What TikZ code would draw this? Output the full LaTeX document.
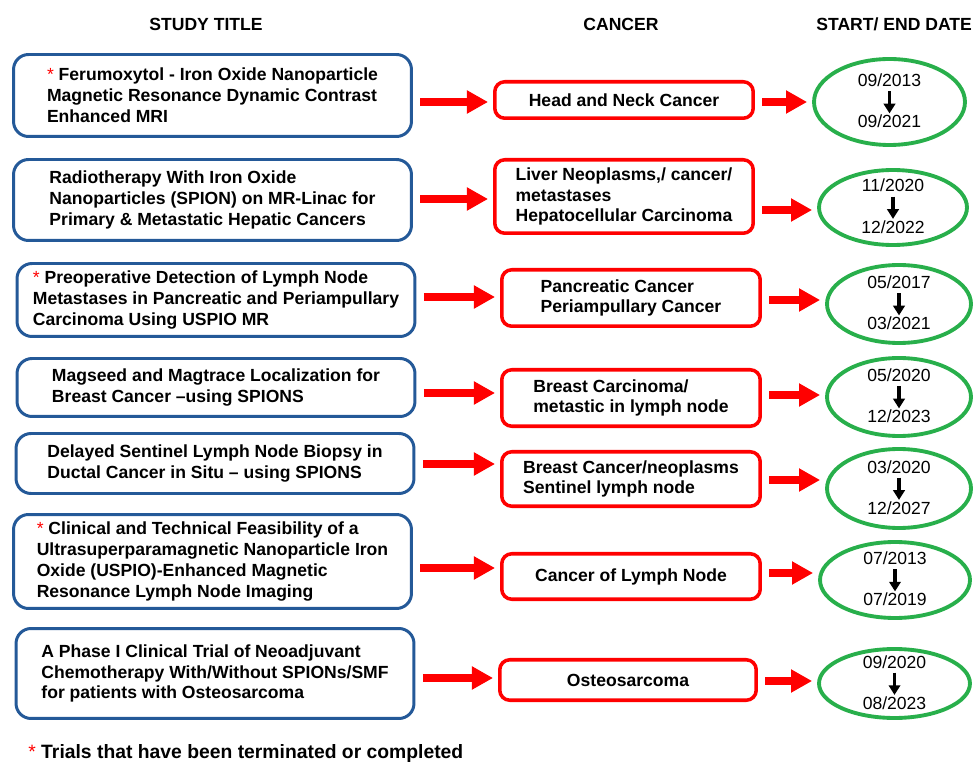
\documentclass[tikz,border=0pt]{standalone}
\usepackage{fontspec}
\setmainfont{Liberation Sans}
\usetikzlibrary{arrows.meta,shapes.geometric}

\definecolor{titleblue}{RGB}{36,89,152}
\definecolor{boxred}{RGB}{255,0,0}
\definecolor{dategreen}{RGB}{40,175,75}

\newcommand{\redstar}{{\color{boxred}\mdseries *}}

\begin{document}
\begin{tikzpicture}[
  x=0.02cm, y=-0.02cm,
  header/.style={font=\fontsize{10}{12}\selectfont\bfseries, anchor=base, inner sep=0pt},
  titlebox/.style={draw=titleblue, line width=1.7pt, rounded corners=0.3cm, align=left,
    font=\fontsize{10}{11.9}\selectfont\bfseries, minimum width=7.96cm, inner sep=0pt},
  cancerbox/.style={draw=boxred, line width=2pt, rounded corners=0.2cm, align=left,
    font=\fontsize{10}{11.9}\selectfont\bfseries, minimum width=5.17cm, inner sep=0pt},
  datering/.style={ellipse, draw=dategreen, line width=2.2pt, inner sep=0pt},
  datetext/.style={font=\fontsize{10}{12}\selectfont, anchor=base, inner sep=0pt},
  bigarrow/.style={draw=boxred, line width=4.5pt, -{Triangle[width=12.5pt,length=12pt]},
    shorten <=0.15cm, shorten >=0.1cm},
  datearrow/.style={line width=2pt, -{Triangle[width=6.5pt,length=5.5pt]},
    shorten <=0.08cm, shorten >=0.03cm},
]
\useasboundingbox (0,0) rectangle (974,763);

% column headers
\node[header] (hstudy) at (206,31) {STUDY TITLE};
\node[header] (hcancer) at (621,31) {CANCER};
\node[header, anchor=base west] (hdate) at (816,31) {START/ END DATE};

% study titles
\node[titlebox, minimum height=1.64cm] (t1) at (212.5,95.5)
  {\redstar\ Ferumoxytol - Iron Oxide Nanoparticle\\Magnetic Resonance Dynamic Contrast\\Enhanced MRI};
\node[titlebox, minimum height=1.62cm] (t2) at (212.5,200)
  {Radiotherapy With Iron Oxide\\Nanoparticles (SPION) on MR-Linac for\\Primary \& Metastatic Hepatic Cancers};
\node[titlebox, minimum height=1.46cm] (t3) at (216,300)
  {\redstar\ Preoperative Detection of Lymph Node\\Metastases in Pancreatic and Periampullary\\Carcinoma Using USPIO MR};
\node[titlebox, minimum height=1.16cm] (t4) at (216,387.5)
  {Magseed and Magtrace Localization for\\Breast Cancer –using SPIONS};
\node[titlebox, minimum height=1.2cm] (t5) at (215,463.5)
  {Delayed Sentinel Lymph Node Biopsy in\\Ductal Cancer in Situ – using SPIONS};
\node[titlebox, minimum height=1.88cm] (t6) at (212.5,561.5)
  {\redstar\ Clinical and Technical Feasibility of a\\Ultrasuperparamagnetic Nanoparticle Iron\\Oxide (USPIO)-Enhanced Magnetic\\Resonance Lymph Node Imaging};
\node[titlebox, minimum height=1.8cm] (t7) at (215,673.5)
  {A Phase I Clinical Trial of Neoadjuvant\\Chemotherapy With/Without SPIONs/SMF\\for patients with Osteosarcoma};

% cancers
\node[cancerbox, minimum height=0.73cm] (c1) at (624,100) {Head and Neck Cancer};
\node[cancerbox, minimum height=1.47cm] (c2) at (624,196.5)
  {Liver Neoplasms,/ cancer/\\metastases\\Hepatocellular Carcinoma};
\node[cancerbox, minimum height=1.13cm] (c3) at (631,298) {Pancreatic Cancer\\Periampullary Cancer};
\node[cancerbox, minimum height=1.13cm] (c4) at (631,398) {Breast Carcinoma/\\metastic in lymph node};
\node[cancerbox, minimum height=1.09cm] (c5) at (631,479) {Breast Cancer/neoplasms\\Sentinel lymph node};
\node[cancerbox, minimum height=0.91cm] (c6) at (631,576.5) {Cancer of Lymph Node};
\node[cancerbox, minimum width=5.13cm, minimum height=0.81cm] (c7) at (628,680) {Osteosarcoma};

% start / end dates
\node[datering, minimum width=3.02cm, minimum height=1.72cm] (d1) at (889.5,102) {};
\node[datering, minimum width=2.96cm, minimum height=1.5cm] (d2) at (893,207.5) {};
\node[datering, minimum width=2.88cm, minimum height=1.56cm] (d3) at (899,304) {};
\node[datering, minimum width=2.88cm, minimum height=1.56cm] (d4) at (899,397) {};
\node[datering, minimum width=2.88cm, minimum height=1.58cm] (d5) at (899,488.5) {};
\node[datering, minimum width=3.0cm, minimum height=1.52cm] (d6) at (895,580) {};
\node[datering, minimum width=3.02cm, minimum height=1.38cm] (d7) at (894.5,683.5) {};

\foreach \i/\ma/\ya/\mb/\yb in {1/09/2013/09/2021, 2/11/2020/12/2022, 3/05/2017/03/2021,
    4/05/2020/12/2023, 5/03/2020/12/2027, 6/07/2013/07/2019, 7/09/2020/08/2023} {
  \node[datetext] (s\i) at ([yshift=0.31cm]d\i.center) {\ma/\ya};
  \node[datetext] (e\i) at ([yshift=-0.52cm]d\i.center) {\mb/\yb};
  \draw[datearrow] (s\i) -- (e\i);
}

% block arrows
\foreach \i/\ya/\yb in {1/102/102, 2/199/210, 3/297/300, 4/393/395, 5/464/480, 6/568/573, 7/678/681} {
  \draw[bigarrow] (t\i.east |- 0,\ya) -- (c\i.west |- 0,\ya);
  \draw[bigarrow] (c\i.east |- 0,\yb) -- (d\i.west |- 0,\yb);
}

% footnote
\node[anchor=base west, font=\fontsize{11}{13}\selectfont\bfseries, inner sep=0pt] (note) at (28,758)
  {\redstar\ Trials that have been terminated or completed};

\end{tikzpicture}
\end{document}
